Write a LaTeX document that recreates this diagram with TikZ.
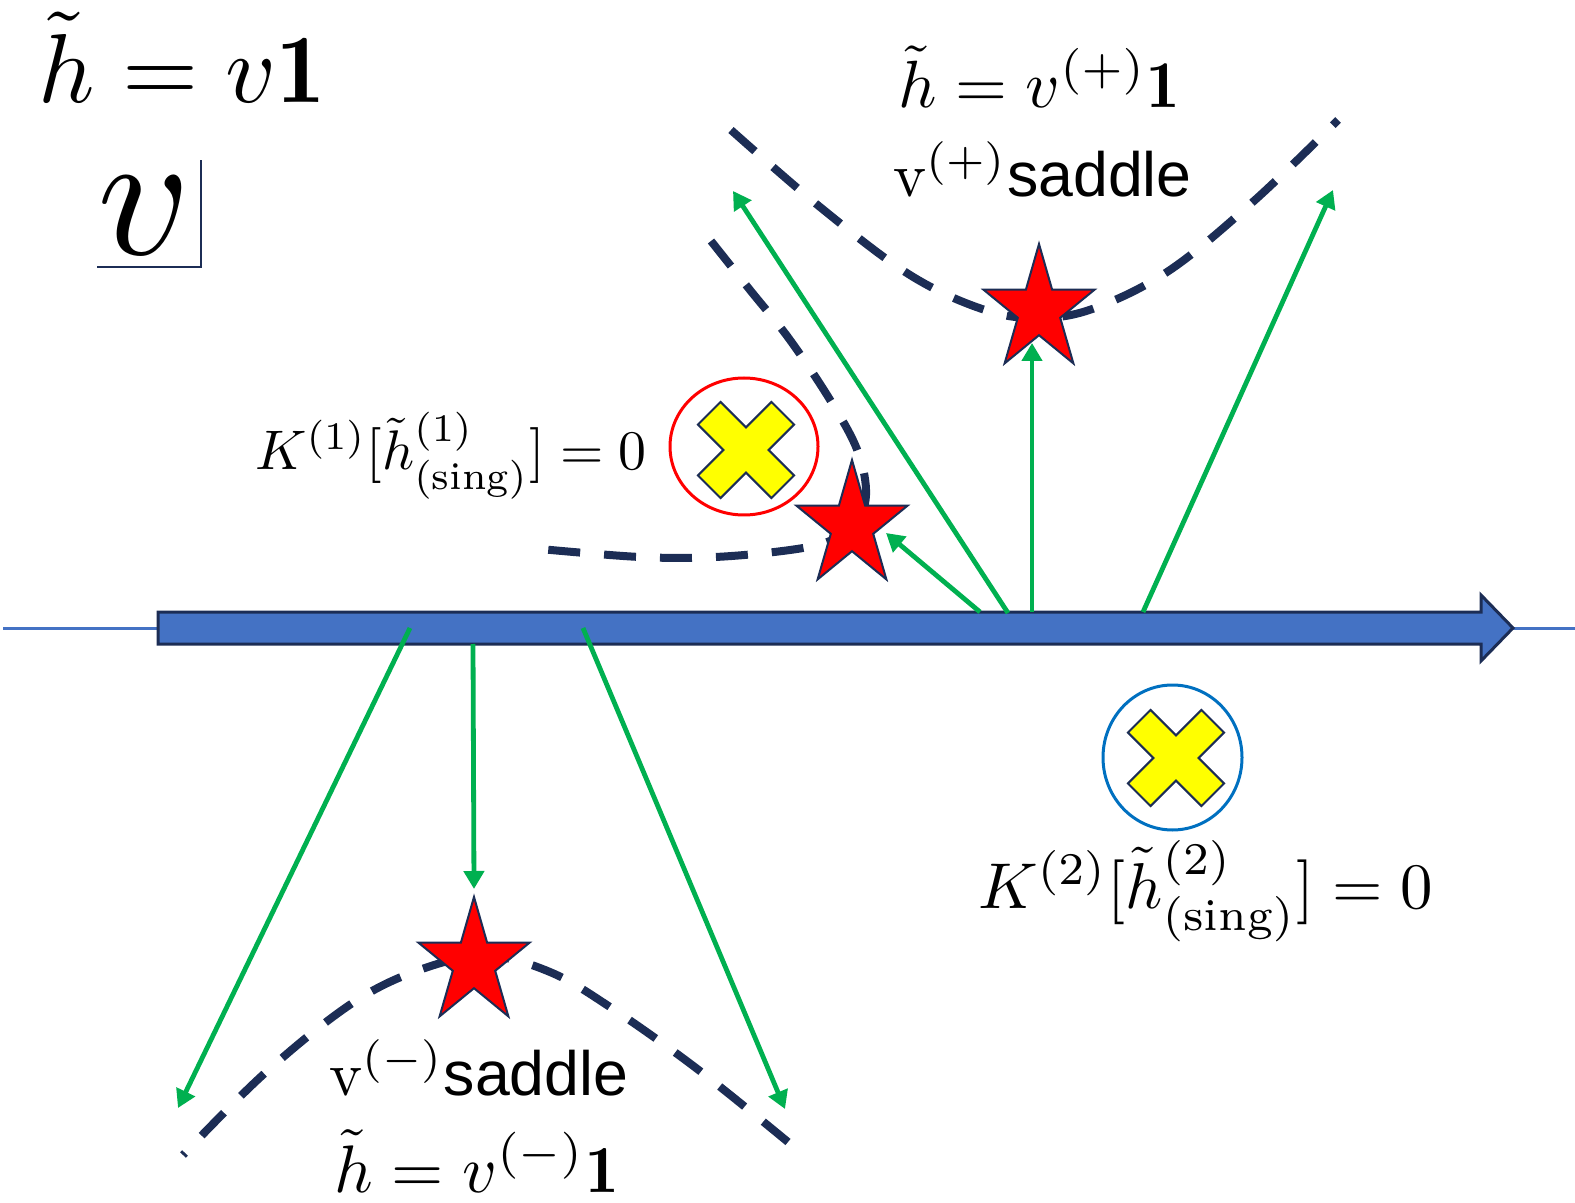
\documentclass[tikz,border=0pt]{standalone}
\usepackage{graphicx}
\usepackage{fontspec}
\newfontfamily\arialfont{Liberation Sans}
\usetikzlibrary{arrows.meta}
\definecolor{navy}{HTML}{1C2D55}
\definecolor{ggreen}{HTML}{00B050}
\definecolor{abblue}{HTML}{4472C4}
\definecolor{cblue}{HTML}{0070C0}
\definecolor{ared}{HTML}{FF0000}
\definecolor{ayellow}{HTML}{FFFF00}
\tikzset{
  dashcurve/.style={draw=navy, line width=4pt, dash pattern=on 16pt off 12pt},
  garrow/.style={draw=ggreen, line width=2.4pt, -{Triangle[length=9pt,width=10pt]}},
  bigarrow/.style={fill=abblue, draw=navy, line width=1.5pt, line join=miter},
  lbl/.style={anchor=base west, inner sep=0pt},
  redstar/.pic={
    \draw[fill=ared, draw=navy, line width=1pt, line join=miter]
      (-90:58.5 and 66) -- (-54:22.3 and 25.2) -- (-18:58.5 and 66) -- (18:22.3 and 25.2)
      -- (54:58.5 and 66) -- (90:22.3 and 25.2) -- (126:58.5 and 66) -- (162:22.3 and 25.2)
      -- (198:58.5 and 66) -- (234:22.3 and 25.2) -- cycle;
  },
  ycross/.pic={
    \draw[fill=ayellow, draw=navy, line width=1pt, line join=miter, rotate=45]
      (16,16) -- (52,16) -- (52,-16) -- (16,-16) -- (16,-52) -- (-16,-52) -- (-16,-16)
      -- (-52,-16) -- (-52,16) -- (-16,16) -- (-16,52) -- (16,52) -- cycle;
  }
}
\newcommand{\sz}[2]{\scalebox{#1}{#2}}
\begin{document}
\begin{tikzpicture}[x=0.5pt,y=-0.5pt]
\useasboundingbox (0,0) rectangle (1575,1203);
% thin axis line
\draw[abblue, line width=1.5pt] (3,628) -- (1575,628);
% dashed curves
\draw[dashcurve] plot[smooth, tension=0.6] coordinates {(731,130) (820,207) (910,275) (985,310) (1040,318) (1095,308) (1170,270) (1255,200) (1338,120)};
\draw[dashcurve] plot[smooth, tension=0.6] coordinates {(711,241) (750,290) (790,340) (832,403) (858,452) (866,495) (855,525) (830,541) (790,550) (715,557) (640,557) (540,549)};
\draw[dashcurve] plot[smooth, tension=0.6] coordinates {(788,1142) (696,1068) (610,1007) (550,972) (488,956) (425,968) (354,1002) (265,1073) (183,1155)};
% big arrow
\draw[bigarrow] (158,612) -- (1481,612) -- (1481,595) -- (1513,628) -- (1481,661) -- (1481,644) -- (158,644) -- cycle;
% circles and crosses
\draw[ared, line width=1.5pt] (744,446.5) ellipse [x radius=74, y radius=68.5];
\pic (x1) at (746,450) {ycross};
\draw[cblue, line width=1.5pt] (1172.5,757.5) ellipse [x radius=69.5, y radius=72.5];
\pic (x2) at (1176,758) {ycross};
% green arrows
\coordinate (u1s) at (1008,613); \coordinate (u1e) at (733,191);
\coordinate (u2s) at (980,612);  \coordinate (u2e) at (886,533);
\coordinate (u3s) at (1032,612); \coordinate (u3e) at (1032,343);
\coordinate (u4s) at (1143,612); \coordinate (u4e) at (1333,190);
\coordinate (d1s) at (410,628);  \coordinate (d1e) at (178,1108);
\coordinate (d2s) at (473,644);  \coordinate (d2e) at (474,889);
\coordinate (d3s) at (583,628);  \coordinate (d3e) at (785,1109);
\foreach \a in {u1,u2,u3,u4,d1,d2,d3} \draw[garrow] (\a s) -- (\a e);
% stars
\pic (s1) at (1039,310) {redstar};
\pic (s2) at (852,526) {redstar};
\pic (s3) at (474,963) {redstar};
% texts
\node[lbl] (t1) at (38,103) {\sz{4.9}{$\tilde{h} = v\mathbf{1}$}};
\node[lbl] (bigv) at (97,255) {\sz{9}{$v$}};
\draw[navy, line width=1.3pt] (97,267) -- (201,267) -- (201,160);
\node[lbl] (t2) at (898,108) {\sz{3.34}{$\tilde{h} = v^{(+)}\mathbf{1}$}};
\node[lbl] (t3) at (893,197) {\sz{3.13}{$\mathrm{v}^{(+)}$\arialfont saddle}};
\node[lbl] (t4) at (255,470) {\sz{2.79}{$K^{(1)}[\tilde{h}^{(1)}_{(\mathrm{sing})}] = 0$}};
\node[lbl] (t5) at (978,908) {\sz{3.24}{$K^{(2)}[\tilde{h}^{(2)}_{(\mathrm{sing})}] = 0$}};
\node[lbl] (t6) at (329,1095) {\sz{3.13}{$\mathrm{v}^{(-)}$\arialfont saddle}};
\node[lbl] (t7) at (334,1192) {\sz{3.36}{$\tilde{h} = v^{(-)}\mathbf{1}$}};
\end{tikzpicture}
\end{document}
